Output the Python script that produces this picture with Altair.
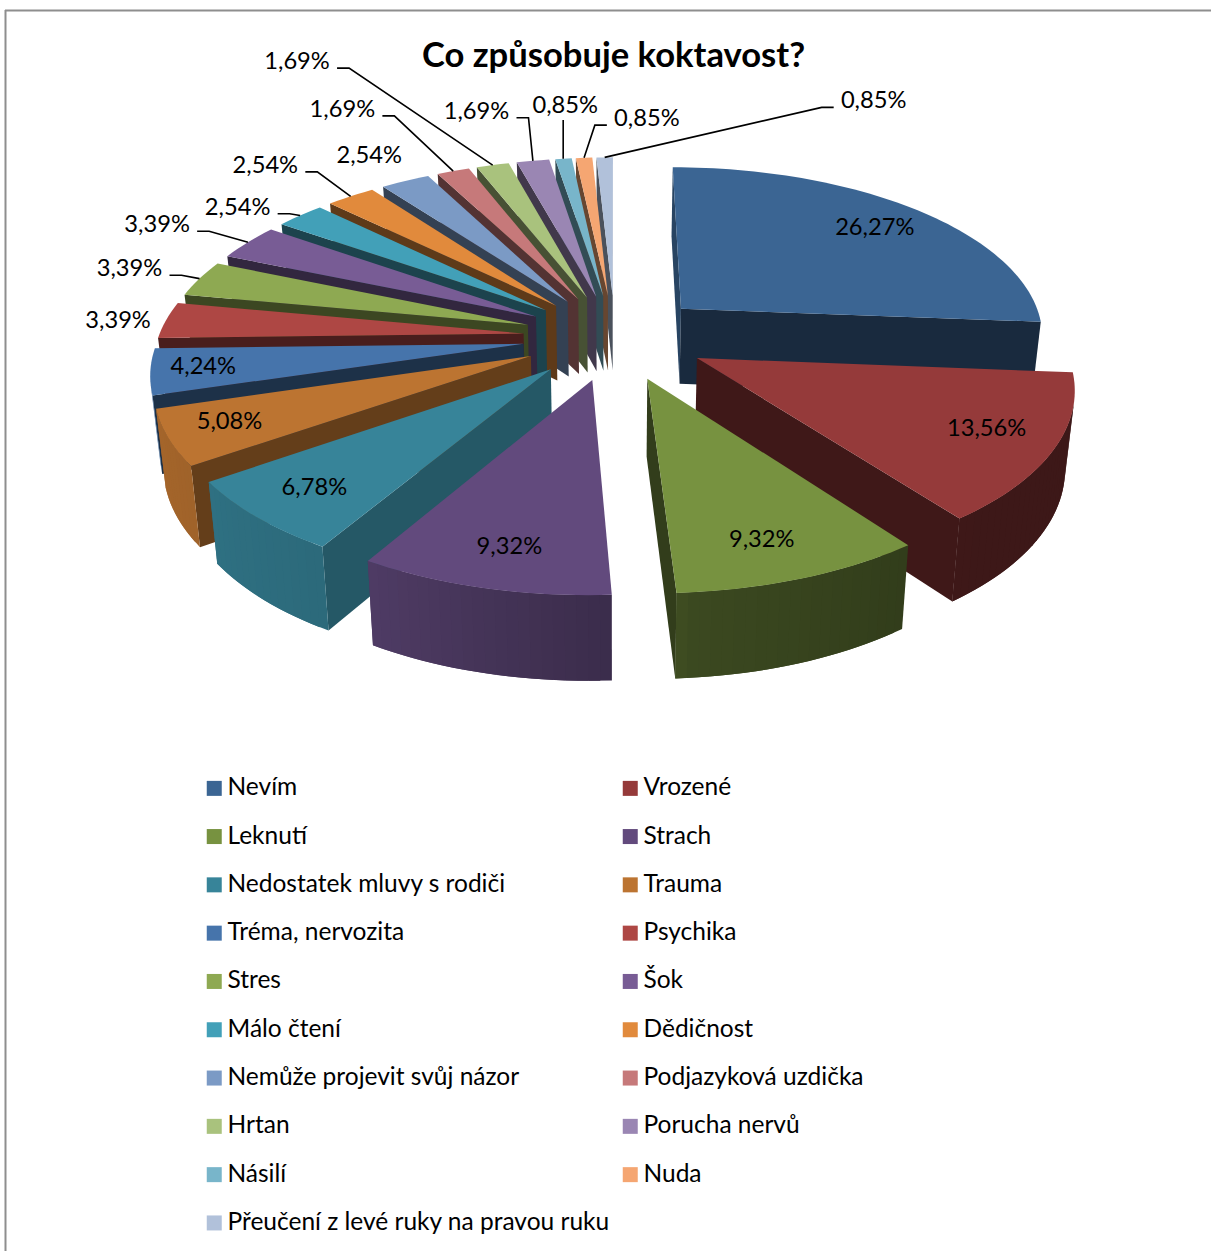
import numpy as np
import altair as alt

# Survey answers, in the clockwise order of the pie
categories = ["Nevím", "Vrozené", "Leknutí", "Strach", "Nedostatek mluvy s rodiči", "Trauma",
              "Tréma, nervozita", "Psychika", "Stres", "Šok", "Málo čtení", "Dědičnost",
              "Nemůže projevit svůj názor", "Podjazyková uzdička", "Hrtan", "Porucha nervů",
              "Násilí", "Nuda", "Přeučení z levé ruky na pravou ruku"]
percent = [26.27, 13.56, 9.32, 9.32, 6.78, 5.08, 4.24, 3.39, 3.39, 3.39,
           2.54, 2.54, 2.54, 1.69, 1.69, 1.69, 0.85, 0.85, 0.85]
colors = ["#3b6593", "#953a3a", "#779240", "#624a7d", "#378499", "#bc7431", "#4674ab",
          "#ae4744", "#8ea952", "#785c95", "#42a0b8", "#e18a3c", "#7b9ac5", "#c6797a",
          "#a9c27d", "#9a86b3", "#78b5ca", "#f5a672", "#b1c1da"]

# Label placement relative to the middle of each slice's rim, in pixels
label_nudge = [(-39, 19), (-67, -21.2), (-40.3, -38.6), (26.5, -40.7), (57.6, -29), (61.2, -15.6),
               (53, -4.4), (-48, 1.2), (-70, -9.4), (-90.8, -17), (-62.5, -7.7), (-85.3, -30.5),
               (-36, -25.3), (-110.8, -61.2), (-195.6, -103), (-56.4, -49), (1.7, -52.7),
               (62.8, -38.7), (269, -56)]
# Leader direction: 1 label sits left of the elbow, -1 right of it, 0 straight drop, None no leader
leader_side = [None] * 8 + [1, 1, 1, 1, None, 1, 1, 1, 0, -1, -1]

# Perspective pie model
CX, CY = 615.0, 337.0
RADIUS, EXPLODE = 365.0, 92.0
K, TILT = 0.0004, 0.465
H0, KH, BOTTOM_SHRINK = 76.2, 0.000242, 0.979


def project(px, py, bottom=False):
    den = 1 + K * py
    sx, sy = px / den, -TILT * py / den
    if bottom:
        sx *= BOTTOM_SHRINK
        sy += H0 / (1 + KH * py)
    return [CX + sx, CY + sy]


def shade(hex_color, f):
    rgb = [int(hex_color[i:i + 2], 16) for i in (1, 3, 5)]
    return "#" + "".join(f"{int(round(c * f)):02x}" for c in rgb)


def area(poly):
    return sum(poly[i][0] * poly[(i + 1) % len(poly)][1] - poly[(i + 1) % len(poly)][0] * poly[i][1]
               for i in range(len(poly)))


def feature(ring, **props):
    return {"type": "Feature", "properties": props,
            "geometry": {"type": "Polygon", "coordinates": [ring + [ring[0]]]}}


def wall(a, b, color, out):
    ring = [project(*a), project(*b), project(*b, True), project(*a, True)]
    if area(ring) < 0:
        out.append(feature(ring, c=color))


shares = np.array(percent) / sum(percent) * 360.0
ends = np.cumsum(shares)
starts = ends - shares

tops, sides, label_rows, leader_rows = [], [], [], []
back_to_front = sorted(range(len(percent)),
                       key=lambda i: -np.cos(np.radians((starts[i] + ends[i]) / 2)))

for i in back_to_front:
    t0, t1 = starts[i], ends[i]
    mid = np.radians((t0 + t1) / 2)
    apex = (EXPLODE * np.sin(mid), EXPLODE * np.cos(mid))
    steps = max(2, int((t1 - t0) / 1.5))
    thetas = np.linspace(t0, t1, steps + 1)
    rim = [(apex[0] + RADIUS * np.sin(np.radians(t)), apex[1] + RADIUS * np.cos(np.radians(t)))
           for t in thetas]

    base = colors[i]
    start_f = float(np.interp(t0, [210, 235, 253, 360], [0.67, 0.53, 0.42, 0.42]))
    wall(apex, rim[0], shade(base, start_f), sides)
    wall(rim[-1], apex, shade(base, 0.42), sides)
    # Rim strips overlap the next one so no seam shows between neighbours
    for j in range(steps):
        tm = (thetas[j] + thetas[j + 1]) / 2
        f = float(np.interp(tm, [90, 140, 176, 177, 210, 235, 270],
                            [0.41, 0.41, 0.5, 0.6, 0.8, 0.85, 0.9]))
        wall(rim[j], rim[min(j + 2, steps)], shade(base, f), sides)

    ring = [project(*apex)] + [project(*p) for p in rim]
    tops.append(feature(ring, cat=categories[i]))

    edge = project(EXPLODE * np.sin(mid) + RADIUS * np.sin(mid),
                   EXPLODE * np.cos(mid) + RADIUS * np.cos(mid))
    lx, ly = edge[0] + label_nudge[i][0], edge[1] + label_nudge[i][1]
    label_rows.append({"x": lx, "y": ly, "t": f"{percent[i]:.2f}%".replace(".", ",")})

    side = leader_side[i]
    if side is not None:
        if side == 0:
            path = [(lx - 2, ly + 14), (lx - 2, edge[1])]
        else:
            path = [(lx + side * 40, ly + 6), (lx + side * 52, ly + 6), tuple(edge)]
        for o, (px, py) in enumerate(path):
            leader_rows.append({"k": i, "o": o, "x": px, "y": py})

view = alt.Projection(type="identity", scale=1, translate=[0, 0])

side_layer = alt.Chart(alt.Data(values=sides)).mark_geoshape(strokeWidth=0).encode(
    fill=alt.Fill("properties.c:N", scale=None),
).project(**view.to_dict())

top_layer = alt.Chart(alt.Data(values=tops)).mark_geoshape(strokeWidth=0).encode(
    color=alt.Color(
        "properties.cat:N",
        scale=alt.Scale(domain=categories, range=colors),
        legend=alt.Legend(
            title=None, orient="none", legendX=202, legendY=776, columns=2, direction="horizontal",
            symbolType="square", symbolSize=225, symbolStrokeWidth=0, symbolOpacity=1,
            labelFont="Lato", labelFontSize=24.5, labelColor="#000000", labelLimit=500,
            labelOffset=1, rowPadding=23.3, columnPadding=8,
        ),
    ),
).project(**view.to_dict())

leaders = alt.Chart(alt.Data(values=leader_rows)).mark_line(color="#000000", strokeWidth=1.6).encode(
    x=alt.X("x:Q", scale=None), y=alt.Y("y:Q", scale=None), detail="k:N", order="o:Q")

labels = alt.Chart(alt.Data(values=label_rows)).mark_text(
    font="Lato", fontSize=23.7, color="#000000", align="center", baseline="middle"
).encode(x=alt.X("x:Q", scale=None), y=alt.Y("y:Q", scale=None), text="t:N")

frame_top = alt.Chart(alt.Data(values=[{}])).mark_rule(color="#8e8e8e", strokeWidth=2).encode(
    x=alt.value(5), x2=alt.value(1211), y=alt.value(10.5))
frame_left = alt.Chart(alt.Data(values=[{}])).mark_rule(color="#8e8e8e", strokeWidth=2).encode(
    x=alt.value(5.5), y=alt.value(10), y2=alt.value(1251))

chart = alt.layer(side_layer, top_layer, leaders, labels, frame_top, frame_left).properties(
    width=1211, height=1251, padding=0, autosize="none", background="#ffffff",
    title=alt.TitleParams("Co způsobuje koktavost?", font="Lato", fontSize=34.6, fontWeight="bold",
                          color="#000000", anchor="middle", offset=0, dy=75, dx=8),
).configure_view(stroke=None)

chart.save("out.html", embed_options={"renderer": "svg", "actions": False})
